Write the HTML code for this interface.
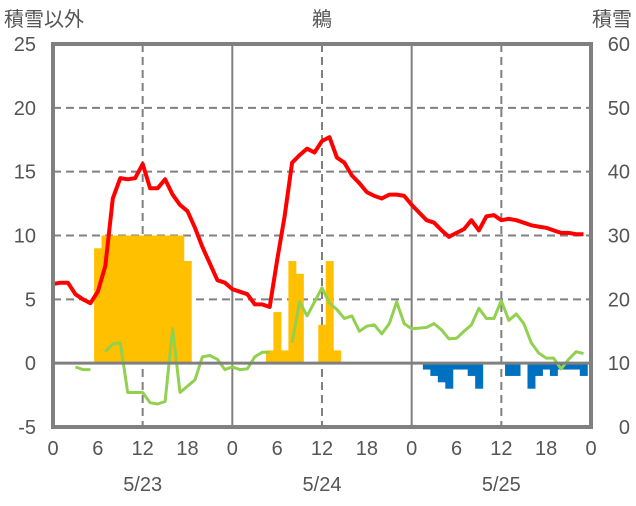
<!DOCTYPE html>
<html><head><meta charset="utf-8"><style>
body{margin:0;background:#fff}
svg text{font-family:"Liberation Sans","Noto Sans CJK JP",sans-serif;fill:#555;font-size:20px}
</style></head><body>
<svg id="chart" width="636" height="501" viewBox="0 0 636 501" xmlns="http://www.w3.org/2000/svg">
<text x="4" y="26">積雪以外</text>
<text x="322" y="26" text-anchor="middle">鵜</text>
<text x="632" y="26" text-anchor="end">積雪</text>
<g id="grid"></g><g id="bars"></g><g id="lines"></g><g id="frame"></g><g id="labels"></g>
</svg>
<script>
const leftTicks=[25,20,15,10,5,0,-5];
const rightTicks=[60,50,40,30,20,10,0];
const hourTicks=[0,6,12,18,0,6,12,18,0,6,12,18,0];
const dates=["5/23","5/24","5/25"];
const temp=[6.2,6.3,6.3,5.4,5.0,4.7,5.6,7.6,12.9,14.5,14.4,14.5,15.6,13.7,13.7,14.4,13.2,12.4,11.9,10.6,9.1,7.8,6.5,6.3,5.8,5.6,5.4,4.6,4.6,4.4,8.1,11.5,15.7,16.3,16.8,16.5,17.4,17.7,16.1,15.7,14.7,14.1,13.4,13.1,12.9,13.2,13.2,13.1,12.4,11.8,11.2,11.0,10.4,9.9,10.2,10.5,11.2,10.4,11.5,11.6,11.2,11.3,11.2,11.0,10.8,10.7,10.6,10.4,10.2,10.2,10.1,10.1];
const green=[null,null,null,-0.3,-0.5,-0.5,null,0.9,1.5,1.6,-2.3,-2.3,-2.3,-3.1,-3.2,-3.0,2.7,-2.3,-1.8,-1.3,0.5,0.6,0.3,-0.5,-0.3,-0.5,-0.45,0.5,0.85,0.85,null,null,1.6,4.8,3.7,4.8,5.9,4.7,4.2,3.5,3.7,2.5,2.9,3.0,2.3,3.1,4.8,3.1,2.7,2.75,2.8,3.1,2.6,1.9,1.95,2.5,3.0,4.3,3.5,3.5,4.9,3.35,3.85,3.1,1.6,0.8,0.4,0.4,-0.45,0.3,0.9,0.75];
const snowHours=[6,7,8,9,10,11,12,13,14,15,16,17,18,29,30,31,32,33,36,37,38];
const snowVals=[9,10,10,10,10,10,10,10,10,10,10,10,8,1,4,1,8,7,3,8,1];
const meltHours=[50,51,52,53,54,55,56,57,61,62,64,65,66,67,68,69,70,71];
const meltVals=[-0.5,-1,-1.5,-2,-0.5,-0.5,-1,-2,-1,-1,-2,-1,-0.5,-1,-0.5,-0.5,-0.5,-1];
const X0=53,X1=591,Y0=44,Y1=427;
const x=h=>X0+(X1-X0)*h/72;
const y=v=>Y1-(Y1-Y0)*(v+5)/30;
const NS="http://www.w3.org/2000/svg";
function mk(t,p,a){const e=document.createElementNS(NS,t);for(const k in a)e.setAttribute(k,a[k]);document.getElementById(p).appendChild(e);return e;}
// grid
[5,10,15,20].forEach(v=>{const e=mk('line','grid',{x1:X0,x2:X1,y1:y(v),y2:y(v),stroke:'#808080','stroke-width':2,'stroke-dasharray':'8,5'});

});
[12,36,60].forEach(h=>{const e=mk('line','grid',{x1:x(h),x2:x(h),y1:Y0,y2:Y1,stroke:'#808080','stroke-width':2,'stroke-dasharray':'8,5'});

});
[24,48].forEach(h=>{const e=mk('line','grid',{x1:x(h),x2:x(h),y1:Y0,y2:Y1,stroke:'#808080','stroke-width':2});

});
// bars
snowHours.forEach((h,i)=>{const v=snowVals[i];const e=mk('rect','bars',{x:x(h-0.5),width:x(1)-X0+0.5,y:y(v),height:y(0)-y(v),fill:'#FFC000'});

});
meltHours.forEach((h,i)=>{const v=meltVals[i];const e=mk('rect','bars',{x:x(h-0.5),width:x(1)-X0+0.5,y:y(0),height:y(v)-y(0),fill:'#0070C0'});

});
// zero line
const z=mk('line','frame',{x1:X0,x2:X1,y1:y(0),y2:y(0),stroke:'#808080','stroke-width':3});


// lines
function path(arr){let d='',pen=false;arr.forEach((v,i)=>{if(v===null){pen=false;return;}d+=(pen?'L':'M')+x(i).toFixed(1)+','+y(v).toFixed(1);pen=true;});return d;}
const g=mk('path','lines',{d:path(green),fill:'none',stroke:'#92D050','stroke-width':3,'stroke-linejoin':'round'});


const r=mk('path','lines',{d:path(temp),fill:'none',stroke:'#FF0000','stroke-width':4,'stroke-linejoin':'round'});


// frame
const f=mk('rect','frame',{x:X0,y:Y0,width:X1-X0,height:Y1-Y0,fill:'none',stroke:'#808080','stroke-width':4});


// labels
leftTicks.forEach(v=>{const e=mk('text','labels',{x:36,y:y(v)+7,'text-anchor':'end'});e.textContent=v;

});
rightTicks.forEach((v,i)=>{const e=mk('text','labels',{x:630,y:y(leftTicks[i])+7,'text-anchor':'end'});e.textContent=v;

});
hourTicks.forEach((v,i)=>{const e=mk('text','labels',{x:x(i*6),y:455,'text-anchor':'middle'});e.textContent=v;

});
dates.forEach((v,i)=>{const e=mk('text','labels',{x:x(12+24*i),y:491,'text-anchor':'middle'});e.textContent=v;

});
</script>
</body></html>
